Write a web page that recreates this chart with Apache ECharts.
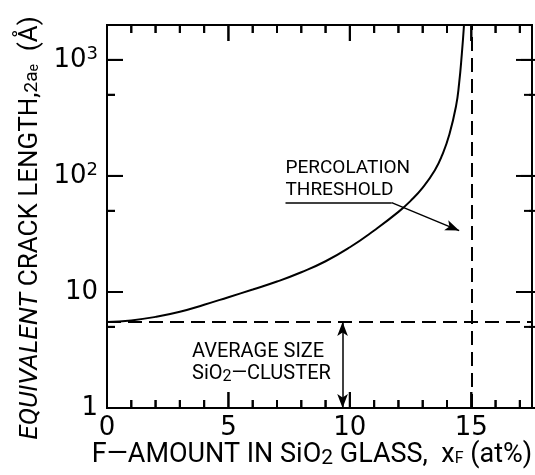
<!DOCTYPE html>
<html>
<head>
<meta charset="utf-8">
<script src="https://cdn.jsdelivr.net/npm/echarts@6/dist/echarts.min.js"></script>
<style>
  html, body { margin: 0; padding: 0; background: #fff; }
  #chart { width: 535px; height: 475px; }
</style>
</head>
<body>
<div id="chart"></div>
<script>
// Equivalent crack length 2a_e versus fluorine content in SiO2 glass
const xF = [0, 1, 2, 3, 4, 5, 6, 7, 8, 9, 10, 11, 12, 12.5, 13, 13.5, 13.8, 14.1, 14.37, 14.5, 14.61, 14.7];
const crackLength = [5.5, 5.69, 6.1, 6.76, 7.76, 9.02, 10.5, 12.3, 14.8, 18.4, 24.3, 33.9, 49.0, 61.0, 79.4, 112, 151, 229, 398, 631, 1122, 2000];

const percolationX = 15;      // percolation threshold (at%)
const clusterSize = 5.5;      // average SiO2 cluster size (Å)

// tick marks on all four sides (long = major, short = minor)
const xMajorTicks = [0, 5, 10, 15];
const xMinorTicks = [1, 2, 3, 4, 6, 7, 8, 9, 11, 12, 13, 14, 16, 17];
const yMajorTicks = [1, 10, 100, 1000];
const yMinorTicks = [5, 50, 500];

const INK = '#000';
const NUM_FONT = '"DejaVu Sans", "Liberation Sans", sans-serif';
const TXT_FONT = '"Roboto", "Liberation Sans", sans-serif';

const X_MAX = 17.5, Y_MIN = 1, Y_MAX = 2000;
const MAJOR_LEN = 16, MINOR_LEN = 8;
const GRID = { left: 107, top: 25, width: 430, height: 383 };

const chart = echarts.init(document.getElementById('chart'), null, { renderer: 'canvas' });

function tickLine(x1, y1, x2, y2) {
  return { type: 'line', shape: { x1, y1, x2, y2 }, style: { stroke: INK, lineWidth: 2 } };
}

// x ticks: drawn inward from the bottom and top frame edges
function renderXTick(params, api) {
  const r = params.coordSys;
  const len = api.value(2) ? MAJOR_LEN : MINOR_LEN;
  const px = api.coord([api.value(0), api.value(1)])[0];
  return {
    type: 'group',
    children: [
      tickLine(px, r.y + r.height, px, r.y + r.height - len),
      tickLine(px, r.y, px, r.y + len)
    ]
  };
}

// y ticks: drawn inward from the left and right frame edges
function renderYTick(params, api) {
  const r = params.coordSys;
  const len = api.value(2) ? MAJOR_LEN : MINOR_LEN;
  const py = api.coord([api.value(0), api.value(1)])[1];
  return {
    type: 'group',
    children: [
      tickLine(r.x, py, r.x + len, py),
      tickLine(r.x + r.width, py, r.x + r.width - len, py)
    ]
  };
}

const xTickData = xMajorTicks.map(v => [v, Y_MIN, 1]).concat(xMinorTicks.map(v => [v, Y_MIN, 0]));
const yTickData = yMajorTicks.map(v => [0, v, 1]).concat(yMinorTicks.map(v => [0, v, 0]));

const option = {
  animation: false,
  backgroundColor: '#fff',
  grid: Object.assign({
    containLabel: false, show: true, borderColor: INK, borderWidth: 2, backgroundColor: 'transparent'
  }, GRID),
  xAxis: {
    type: 'value', min: 0, max: X_MAX, interval: 5,
    axisLine: { show: true, onZero: false, lineStyle: { color: INK, width: 2 } },
    axisTick: { show: false },
    axisLabel: {
      color: INK, fontFamily: NUM_FONT, fontSize: 26, margin: 7,
      formatter: v => (xMajorTicks.indexOf(v) >= 0 ? String(v) : '')
    },
    splitLine: { show: false }
  },
  yAxis: {
    type: 'log', logBase: 10, min: Y_MIN, max: Y_MAX,
    axisLine: { show: true, onZero: false, lineStyle: { color: INK, width: 2 } },
    axisTick: { show: false },
    axisLabel: {
      color: INK, fontFamily: NUM_FONT, fontSize: 26, margin: 9,
      formatter: function (v) {
        const e = Math.round(Math.log10(v));
        if (yMajorTicks.indexOf(v) < 0) return '';
        if (e === 0) return '1';
        if (e === 1) return '10';
        return '10{sup|' + e + '}';
      },
      rich: { sup: { fontFamily: NUM_FONT, fontSize: 18, verticalAlign: 'top', padding: [0, 0, 12, 0] } }
    },
    splitLine: { show: false }
  },
  series: [
    {
      type: 'custom', name: 'xTicks', silent: true, clip: false, zlevel: 1, z: 10,
      renderItem: renderXTick, data: xTickData
    },
    {
      type: 'custom', name: 'yTicks', silent: true, clip: false, zlevel: 1, z: 10,
      renderItem: renderYTick, data: yTickData
    },
    {
      type: 'line',
      data: xF.map((x, i) => [x, crackLength[i]]),
      showSymbol: false,
      smooth: 0.5,
      clip: true,
      lineStyle: { color: INK, width: 2 },
      markLine: {
        silent: true,
        symbol: ['none', 'none'],
        label: { show: false },
        lineStyle: { color: INK, width: 2, type: [14, 7] },
        data: [
          { xAxis: percolationX },
          { yAxis: clusterSize },
          [
            { coord: [7.35, 58.9], lineStyle: { type: 'solid', width: 1.5 }, symbol: 'none' },
            { coord: [11.72, 58.9], symbol: 'none' }
          ],
          [
            { coord: [11.72, 58.9], lineStyle: { type: 'solid', width: 1.5 }, symbol: 'none' },
            { coord: [14.5, 33.8], symbol: 'arrow', symbolSize: [8, 14] }
          ],
          [
            { coord: [9.7, clusterSize], lineStyle: { type: 'solid', width: 1.5 }, symbol: 'arrow', symbolSize: [8, 14] },
            { coord: [9.7, Y_MIN], symbol: 'arrow', symbolSize: [8, 14] }
          ]
        ]
      },
      markPoint: {
        silent: true,
        symbol: 'circle',
        symbolSize: 0,
        data: [
          {
            coord: [7.35, 94],
            label: {
              show: true, position: 'right', distance: 0, align: 'left', verticalAlign: 'middle',
              color: INK, fontFamily: TXT_FONT, fontSize: 19, lineHeight: 22,
              formatter: 'PERCOLATION\nTHRESHOLD'
            }
          },
          {
            coord: [3.5, 2.44],
            label: {
              show: true, position: 'right', distance: 0, align: 'left', verticalAlign: 'middle',
              color: INK, fontFamily: TXT_FONT, fontSize: 20, lineHeight: 22,
              formatter: 'AVERAGE SIZE\nSiO{sub|2}—CLUSTER',
              rich: { sub: { fontFamily: TXT_FONT, fontSize: 16, verticalAlign: 'bottom', padding: [6, 0, 0, 0] } }
            }
          }
        ]
      }
    }
  ],
  graphic: [
    {
      type: 'text',
      x: 312, y: 455,
      style: {
        text: 'F—AMOUNT IN SiO{sub|2} GLASS,  x{subF|F} (at%)',
        font: '27px ' + TXT_FONT,
        fill: INK, align: 'center', verticalAlign: 'middle',
        rich: {
          sub: { fontFamily: TXT_FONT, fontSize: 21, padding: [8, 0, 0, 0] },
          subF: { fontFamily: TXT_FONT, fontSize: 16, padding: [8, 0, 0, 0] }
        }
      }
    },
    {
      type: 'text',
      x: 30, y: 228,
      rotation: Math.PI / 2,
      style: {
        text: '{it|EQUIVALENT} CRACK LENGTH,{sm|2a}{sub|e}  (Å)',
        font: '26px ' + TXT_FONT,
        fill: INK, align: 'center', verticalAlign: 'middle',
        rich: {
          it: { fontFamily: TXT_FONT, fontSize: 26, fontStyle: 'italic' },
          sm: { fontFamily: TXT_FONT, fontSize: 19, padding: [4, 0, 0, 0] },
          sub: { fontFamily: TXT_FONT, fontSize: 14, padding: [8, 0, 0, 0] }
        }
      }
    }
  ]
};

chart.setOption(option);

// frame ticks as overlay elements, positioned through the chart's own scales
const frameLeft = GRID.left, frameRight = GRID.left + GRID.width;
const frameTop = GRID.top, frameBottom = GRID.top + GRID.height;
const overlay = [];
function addTick(x1, y1, x2, y2) {
  overlay.push({
    type: 'line', zlevel: 2, z: 100, silent: true,
    shape: { x1, y1, x2, y2 }, style: { stroke: INK, lineWidth: 2 }
  });
}
xMajorTicks.concat(xMinorTicks).forEach(v => {
  const len = xMajorTicks.indexOf(v) >= 0 ? MAJOR_LEN : MINOR_LEN;
  const px = chart.convertToPixel({ gridIndex: 0 }, [v, Y_MIN])[0];
  addTick(px, frameBottom, px, frameBottom - len);
  addTick(px, frameTop, px, frameTop + len);
});
yMajorTicks.concat(yMinorTicks).forEach(v => {
  const len = yMajorTicks.indexOf(v) >= 0 ? MAJOR_LEN : MINOR_LEN;
  const py = chart.convertToPixel({ gridIndex: 0 }, [0, v])[1];
  addTick(frameLeft, py, frameLeft + len, py);
  addTick(frameRight, py, frameRight - len, py);
});
chart.setOption({ graphic: option.graphic.concat(overlay) });
</script>
</body>
</html>
